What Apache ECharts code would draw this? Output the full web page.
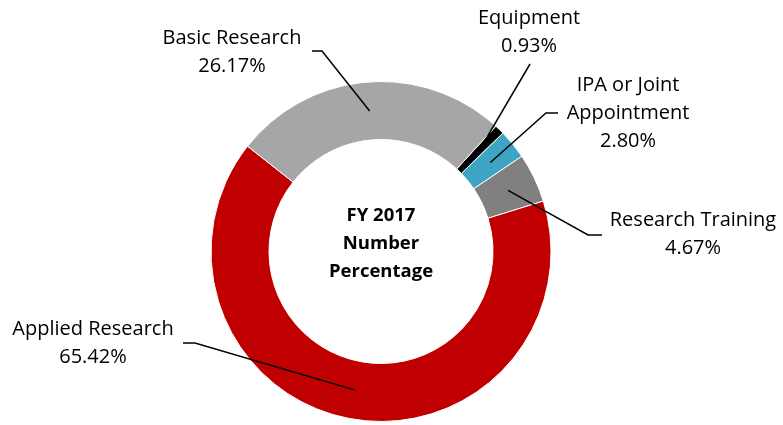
<!DOCTYPE html>
<html>
<head>
<meta charset="utf-8">
<script src="https://cdn.jsdelivr.net/npm/echarts@6/dist/echarts.min.js"></script>
<style>
  html, body { margin: 0; padding: 0; background: #fff; }
  #main { width: 783px; height: 425px; }
</style>
</head>
<body>
<div id="main"></div>
<script>
// data, clockwise from the top-right
const categories = ["Equipment", "IPA or Joint Appointment", "Research Training", "Applied Research", "Basic Research"];
const labelNames = ["Equipment", "IPA or Joint\nAppointment", "Research Training", "Applied Research", "Basic Research"];
const percentages = [0.93, 2.80, 4.67, 65.42, 26.17];
const centerText = ["FY 2017", "Number", "Percentage"];

const colors = ["#000000", "#3DA5C3", "#808080", "#C00000", "#A6A6A6"];

// ring geometry
const cx = 381, cy = 251.5, rIn = 112, rOut = 170;
const startAngle = 47.5; // echarts degrees (ccw from 3 o'clock)

// label placement (text center) and leader-line elbow points
const labelPos = [
  { x: 529, y: 32, bend: [530, 64], end: [530, 64] },
  { x: 628, y: 113, bend: [546, 113], end: [558, 113] },
  { x: 693, y: 234, bend: [588, 235], end: [602, 235] },
  { x: 93, y: 343, bend: [195, 343], end: [183, 343] },
  { x: 232, y: 52, bend: [322, 51], end: [312, 51] }
];

// anchor of each leader line: slice mid-angle at mid-radius
const total = percentages.reduce((a, b) => a + b, 0);
const anchors = [];
let acc = 0;
percentages.forEach(v => {
  const mid = startAngle - (acc + v / 2) / total * 360;
  const rad = mid * Math.PI / 180;
  const r = (rIn + rOut) / 2;
  anchors.push([cx + r * Math.cos(rad), cy - r * Math.sin(rad)]);
  acc += v;
});

// leader lines drawn on top of the ring
const leaders = anchors.map((a, i) => ({
  type: "polyline",
  z: 100,
  shape: { points: [a, labelPos[i].bend, labelPos[i].end] },
  style: { stroke: "#000", lineWidth: 1.5, fill: null }
}));

const chart = echarts.init(document.getElementById("main"));
const option = {
  animation: false,
  color: colors,
  graphic: [{
    type: "text",
    x: cx, y: cy - 8,
    z: 100,
    style: {
      text: centerText.join("\n"),
      font: "bold 18.5px 'Open Sans'",
      lineHeight: 28,
      fill: "#000",
      align: "center",
      verticalAlign: "middle"
    }
  }].concat(leaders),
  series: [{
    type: "pie",
    center: [cx, cy],
    radius: [rIn, rOut],
    startAngle: startAngle,
    clockwise: true,
    avoidLabelOverlap: false,
    itemStyle: { borderColor: "#fff", borderWidth: 1 },
    label: {
      show: true,
      formatter: p => labelNames[p.dataIndex] + "\n" + p.value.toFixed(2) + "%",
      fontFamily: "Open Sans",
      fontSize: 20,
      lineHeight: 28,
      color: "#000",
      align: "center"
    },
    labelLine: { show: false },
    labelLayout: p => {
      const L = labelPos[p.dataIndex];
      return { x: L.x, y: L.y, align: "center", verticalAlign: "middle" };
    },
    data: categories.map((c, i) => ({ name: c, value: percentages[i] }))
  }]
};
chart.setOption(option);
</script>
</body>
</html>
